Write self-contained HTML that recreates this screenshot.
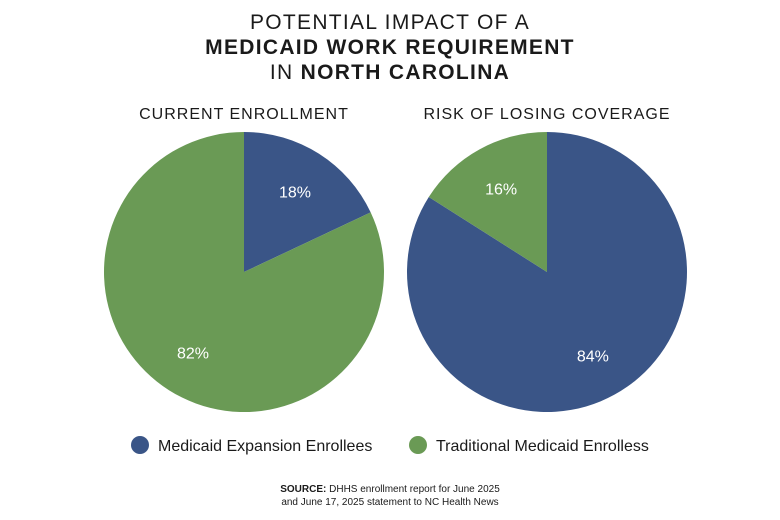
<!DOCTYPE html>
<html><head><meta charset="utf-8"><style>
body{margin:0;background:#fff;}
svg{display:block;font-family:"Liberation Sans",sans-serif;}
</style></head><body>
<svg id="c" width="780" height="520" viewBox="0 0 780 520">
<g fill="#1a1a1a" font-size="21" text-anchor="middle" letter-spacing="1.3">
<text x="390" y="29">POTENTIAL IMPACT OF A</text>
<text x="390" y="54" font-weight="bold">MEDICAID WORK REQUIREMENT</text>
<text x="390" y="79">IN <tspan font-weight="bold">NORTH CAROLINA</tspan></text>
</g>
<text x="244" y="119" text-anchor="middle" font-size="16" letter-spacing="1" fill="#1a1a1a">CURRENT ENROLLMENT</text>
<text x="547" y="119" text-anchor="middle" font-size="16" letter-spacing="1" fill="#1a1a1a">RISK OF LOSING COVERAGE</text>
<g id="pies"></g>
<g>
<circle cx="140" cy="445" r="9" fill="#3a5587"/>
<text x="158" y="451" font-size="16" fill="#1a1a1a">Medicaid Expansion Enrollees</text>
<circle cx="418" cy="445" r="9" fill="#6a9a55"/>
<text x="436" y="451" font-size="16" fill="#1a1a1a">Traditional Medicaid Enrolless</text>
</g>
<g font-size="10" fill="#1a1a1a" text-anchor="middle">
<text x="390" y="492"><tspan font-weight="bold">SOURCE:</tspan> DHHS enrollment report for June 2025</text>
<text x="390" y="505">and June 17, 2025 statement to NC Health News</text>
</g>
</svg>
<script>
const categories=["Medicaid Expansion Enrollees","Traditional Medicaid Enrolless"];
const currentValues=[18,82];
const riskValues=[84,16];
const colors=["#3a5587","#6a9a55"];
const NS="http://www.w3.org/2000/svg";
const g=document.getElementById('pies');
function pt(cx,cy,r,f){const a=f*2*Math.PI;return [cx+r*Math.sin(a),cy-r*Math.cos(a)];}
function drawPie(cx,cy,r,vals,name,startFrac){
  const tot=vals.reduce((a,b)=>a+b,0);let acc=startFrac;
  vals.forEach((v,i)=>{
    const f0=acc,f1=acc+v/tot;acc=f1;
    const [x0,y0]=pt(cx,cy,r,f0),[x1,y1]=pt(cx,cy,r,f1);
    const p=document.createElementNS(NS,'path');
    p.setAttribute('d',`M${cx},${cy}L${x0},${y0}A${r},${r} 0 ${(f1-f0)>0.5?1:0} 1 ${x1},${y1}Z`);
    p.setAttribute('fill',colors[i]);
    
    
    g.appendChild(p);
    const [lx,ly]=pt(cx,cy,r*0.68,(f0+f1)/2);
    const t=document.createElementNS(NS,'text');
    t.setAttribute('x',lx);t.setAttribute('y',ly+6);
    t.setAttribute('text-anchor','middle');t.setAttribute('font-size','16');t.setAttribute('fill','#fff');
    t.textContent=v+'%';
    
    
    g.appendChild(t);
  });
}
drawPie(244,272,140,currentValues,'pie-current',0);
drawPie(547,272,140,riskValues,'pie-risk',0);
</script>
</body></html>
